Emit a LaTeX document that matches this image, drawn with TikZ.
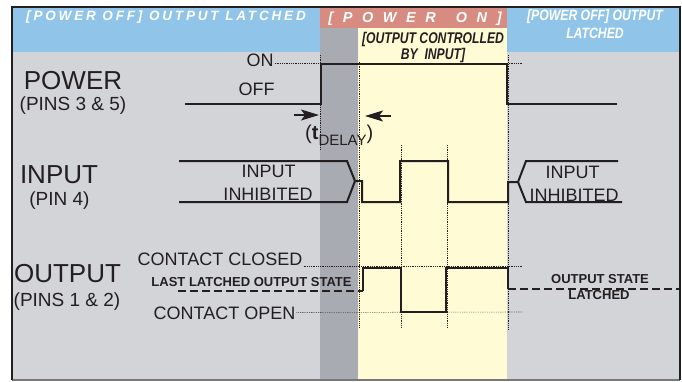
\documentclass[tikz,border=0pt]{standalone}
\usepackage{fontspec}
\setmainfont{Liberation Sans}
\usepackage{graphicx}
\usetikzlibrary{arrows.meta}
\newfontfamily\hdrfont[LetterSpace=21]{Liberation Sans}
\newfontfamily\onfont[LetterSpace=66]{Liberation Sans}
\definecolor{hdrblue}{RGB}{145,196,233}
\definecolor{pinkon}{RGB}{216,139,128}
\definecolor{delaygray}{RGB}{169,171,179}
\definecolor{ctrlyellow}{RGB}{255,251,213}
\definecolor{bodygray}{RGB}{211,212,216}
\definecolor{ink}{RGB}{35,31,32}
\definecolor{framegray}{RGB}{120,120,120}
\begin{document}
\begin{tikzpicture}[x=1pt,y=-1pt,
  sig/.style={line width=2pt, draw=ink, line join=miter, line cap=butt},
  dashsig/.style={sig, dash pattern=on 8pt off 4pt},
  dotln/.style={draw=ink, line width=0.6pt, dash pattern=on 0.6pt off 1.2pt},
  big/.style={font=\fontsize{26}{26}\selectfont, text=ink, inner sep=0pt},
  pins/.style={font=\fontsize{19}{19}\selectfont, text=ink, inner sep=0pt},
  lbl/.style={font=\fontsize{18}{18}\selectfont, text=ink, inner sep=0pt},
  smallbold/.style={font=\fontsize{13}{13}\selectfont\bfseries, text=ink, inner sep=0pt},
  hdr/.style={text=white, inner sep=0pt},
  ctrl/.style={inner sep=0pt, text=ink, anchor=base, font=\fontsize{15.5}{15.5}\selectfont\bfseries\itshape},
  delayarrow/.style={line width=1.5pt, draw=ink, -{Stealth[length=18pt,width=11pt,inset=4pt]}}
]
\useasboundingbox (0,0) rectangle (682,381);
% backgrounds
\fill[bodygray] (12,8) rectangle (680,380);
\fill[hdrblue] (12,8) rectangle (680,52);
\fill[delaygray] (320,28) rectangle (358,380);
\fill[ctrlyellow] (358,28) rectangle (507,380);
\fill[pinkon] (320,8) rectangle (507,28);
% frame
\draw[framegray, line width=1.5pt] (12,380) -- (680,380);
\draw[ink, line width=2pt] (12,380) -- (12,7) -- (680,7) -- (680,380);

% header texts
\node[hdr, font=\fontsize{13.5}{13.5}\selectfont\hdrfont\bfseries\itshape] (hleft) at (166,17) {[POWER OFF] OUTPUT LATCHED};
\node[hdr, font=\fontsize{14.5}{14.5}\selectfont\onfont\bfseries\itshape] (hon) at (415,19) {[POWER\hspace{20pt}ON]};
\node[hdr, font=\fontsize{15}{15}\selectfont\bfseries\itshape] (hright1) at (595,17) {\scalebox{0.815}[1]{[POWER OFF] OUTPUT}};
\node[hdr, font=\fontsize{15}{15}\selectfont\bfseries\itshape] (hright2) at (595,33) {\scalebox{0.815}[1]{LATCHED}};
\node[ctrl, text depth=0pt] (ctrl1) at (433,43.5) {\scalebox{0.785}[1]{[OUTPUT CONTROLLED}};
\node[ctrl, text height=10pt] (ctrl2) at (433,59) {\scalebox{0.785}[1]{BY\ \ INPUT]}};

% vertical dotted guides
\draw[dotln] (320,55) -- (320,150);
\draw[dotln] (359,62) -- (359,327);
\draw[dotln] (401,145) -- (401,327);
\draw[dotln] (447,145) -- (447,327);
\draw[dotln] (508,55) -- (508,330);

% row labels
\node[big] (lpower) at (73,80.5) {POWER};
\node[pins] (lpins35) at (73,106) {(PINS 3 \& 5)};
\node[big] (linput) at (59,175) {INPUT};
\node[pins] (lpin4) at (59.5,200.5) {(PIN 4)};
\node[big] (loutput) at (67.5,274) {OUTPUT};
\node[pins] (lpins12) at (67,301.5) {(PINS 1 \& 2)};

% POWER
\node[lbl] (on) at (260,60) {ON};
\node[lbl] (off) at (256.5,89.5) {OFF};
\draw[dotln] (on.east) ++(1,3) coordinate (ondot) -- (523,63);
\draw[sig] (185,104) -- (321,104) -- (321,64) -- (507,64) -- (507,104) -- (617,104);
\coordinate (a1s) at (294,115);
\coordinate (a1e) at (319,115);
\coordinate (a2s) at (391,116);
\coordinate (a2e) at (365,116);
\draw[delayarrow] (a1s) -- (a1e);
\draw[delayarrow] (a2s) -- (a2e);
\node[anchor=base west, inner sep=0pt, text=ink, font=\fontsize{20}{20}\selectfont] (tdelay) at (305,139) {(\textbf{t}\raisebox{-6pt}{\fontsize{15}{15}\selectfont DELAY})};

% INPUT
\node[lbl] (inl1) at (268.5,171.5) {INPUT};
\node[lbl] (inl2) at (268,194) {INHIBITED};
\node[lbl] (inr1) at (572.5,172) {INPUT};
\node[lbl] (inr2) at (574,195) {INHIBITED};
\draw[sig] (179,161) -- (347,161) -- (355,181);
\draw[sig] (179,202) -- (347,202) -- (355,181) -- (362,181) -- (362,202) -- (400,202) -- (400,161) -- (448,161) -- (448,202) -- (508,202) -- (508,182) -- (518,182) -- (526,161) -- (618,161);
\draw[sig] (518,182) -- (526,202) -- (622,202);

% OUTPUT
\node[lbl] (cclosed) at (220,259) {CONTACT CLOSED};
\node[smallbold] (lastl) at (251.5,282.5) {LAST LATCHED OUTPUT STATE};
\node[lbl] (copen) at (224.5,313.5) {CONTACT OPEN};
\node[smallbold] (ostate1) at (600,279.5) {OUTPUT STATE};
\node[smallbold] (ostate2) at (599,295) {LATCHED};
\draw[dotln] (cclosed.east) ++(1,7) -- (523,266);
\draw[dotln] (copen.east) ++(1,-1) -- (523,312);
\draw[dashsig] (178,291) -- (363,291);
\draw[sig] (363,291) -- (363,268) -- (401,268) -- (401,312) -- (446,312) -- (446,268) -- (508,268) -- (508,289);
\draw[dashsig] (508,289) -- (679,289);
\end{tikzpicture}
\end{document}
